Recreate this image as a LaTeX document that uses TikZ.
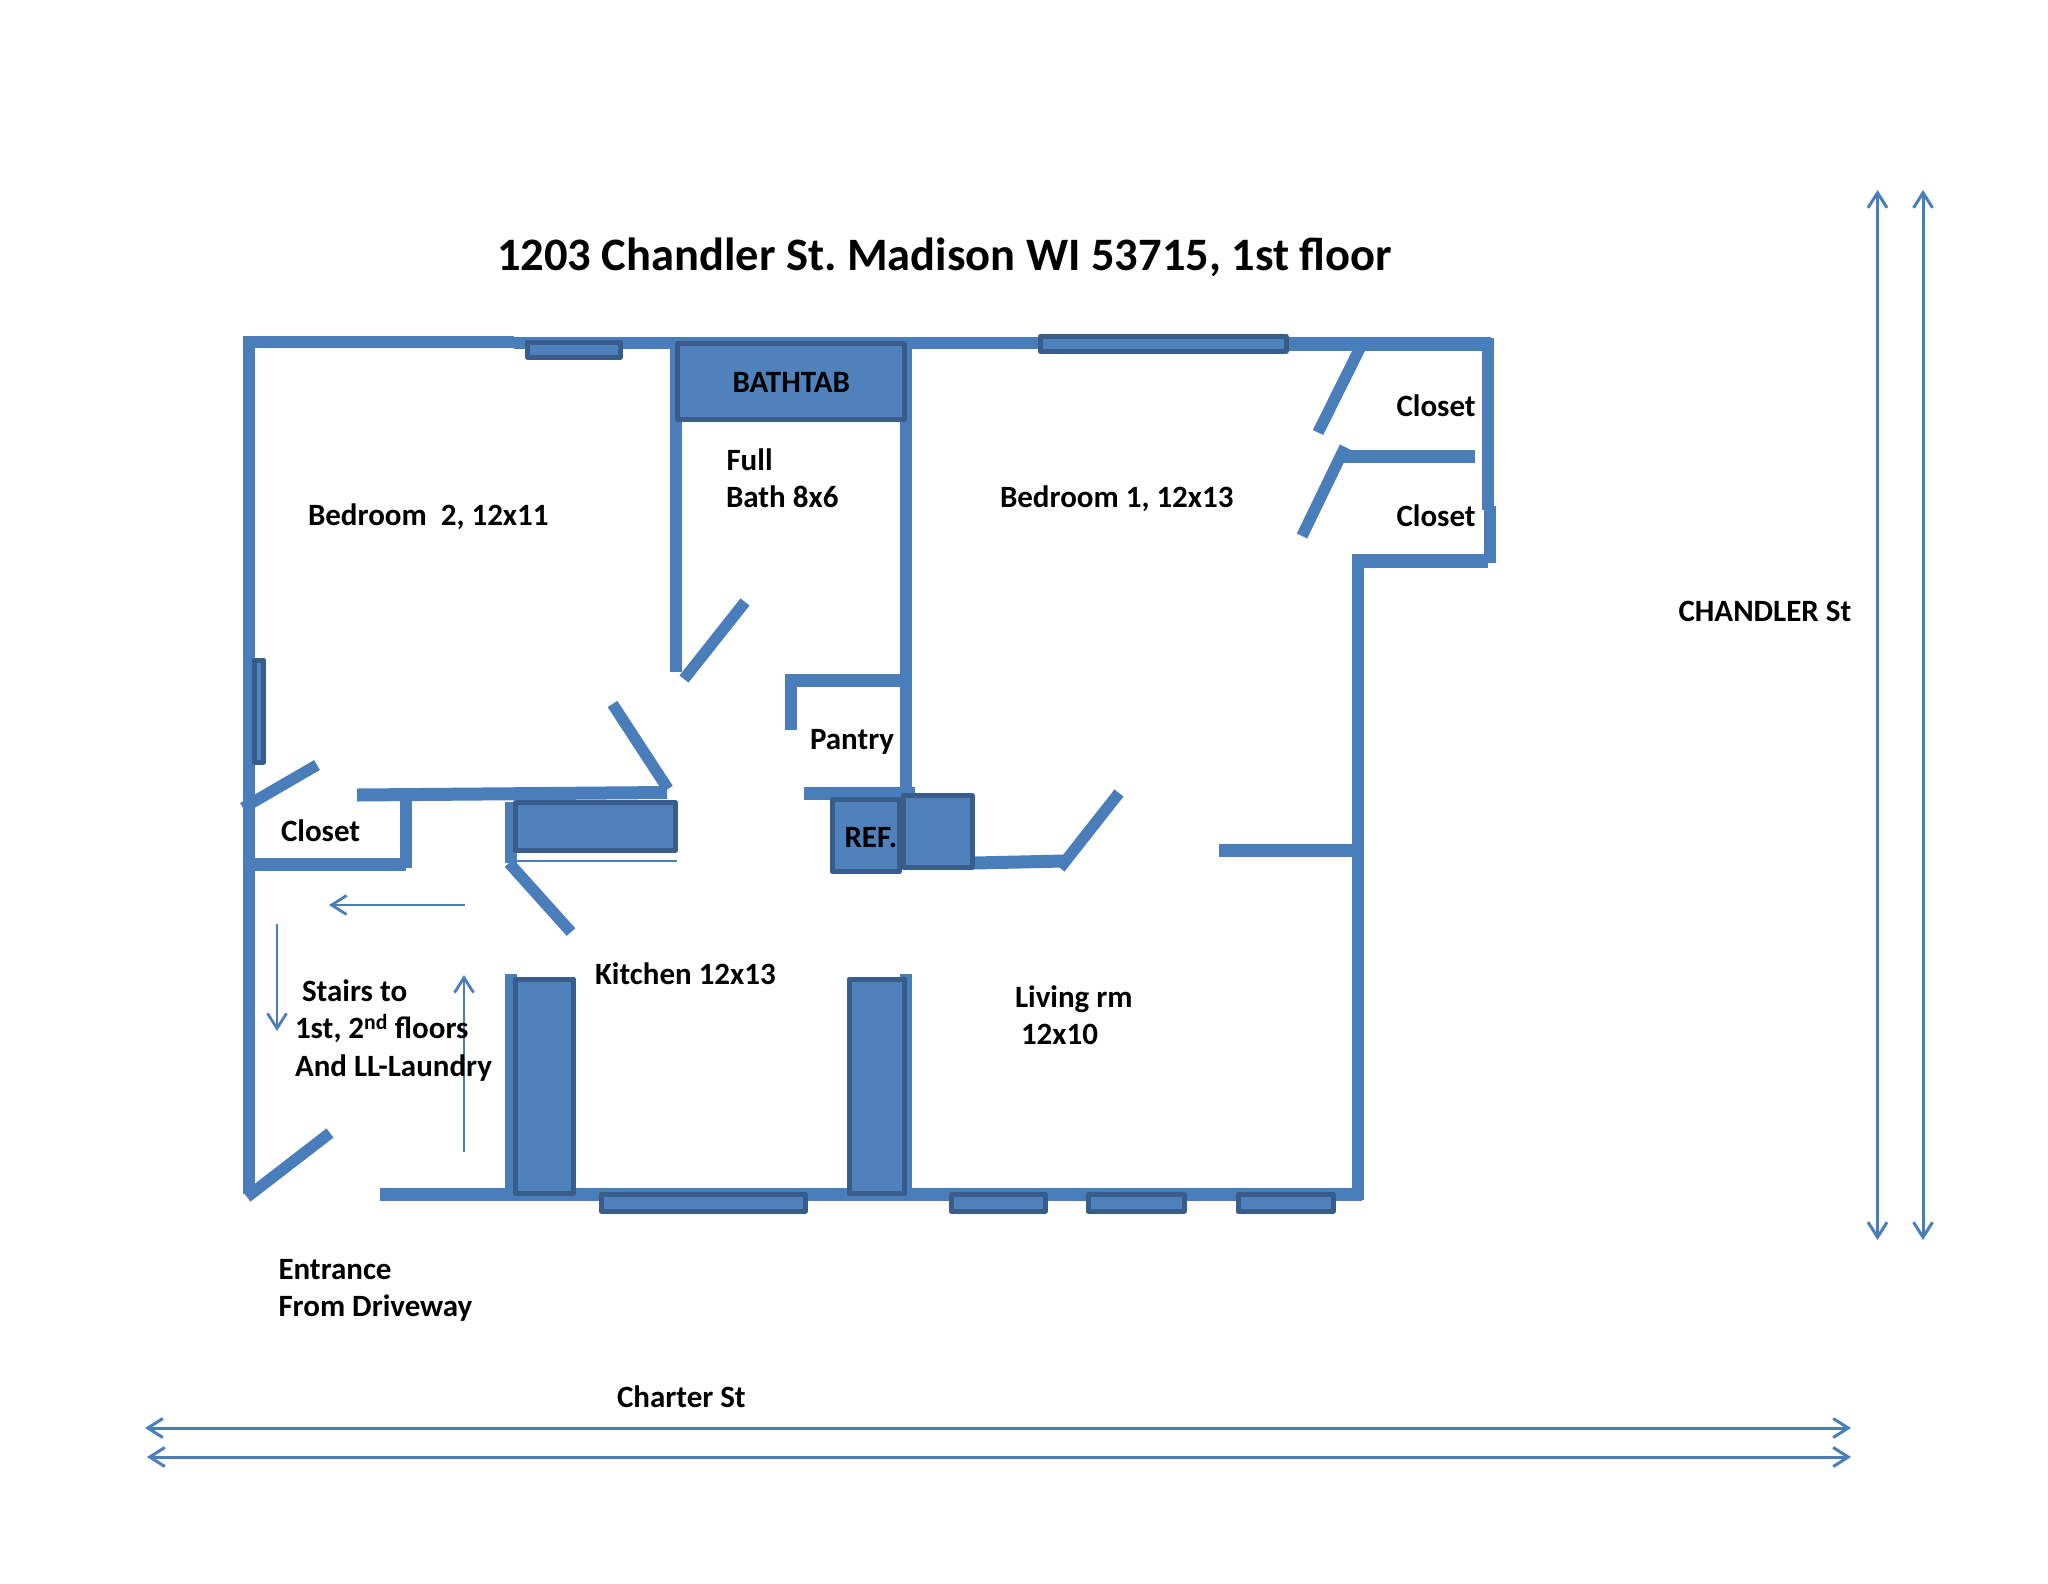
\documentclass[tikz,border=0pt]{standalone}
\usepackage{fontspec}
\setmainfont{Carlito}[BoldFont={Carlito Bold}]
\usetikzlibrary{arrows.meta}
\definecolor{wallc}{HTML}{4A7EBB}
\definecolor{fillc}{HTML}{4F81BD}
\definecolor{edgec}{HTML}{385D8A}
\tikzset{
  wall/.style={draw=wallc,line width=12pt,line cap=butt},
  door/.style={draw=wallc,line width=11.5pt,line cap=butt},
  box/.style={draw=edgec,fill=fillc,line width=5pt,line join=round},
  pointer/.style={draw=wallc,line width=2.8pt,-{Straight Barb[length=15pt,width=19pt,line width=2.8pt]}},
  both/.style={draw=wallc,line width=3pt,{Straight Barb[length=15pt,width=19pt,line width=3pt]}-{Straight Barb[length=15pt,width=19pt,line width=3pt]}},
  lbl/.style={anchor=base west,inner sep=0pt,outer sep=0pt,font=\fontsize{31}{36}\selectfont\bfseries,text=black},
  ttl/.style={anchor=base west,inner sep=0pt,outer sep=0pt,font=\fontsize{46.5}{52}\selectfont\bfseries\frenchspacing,text=black}
}
\begin{document}
\begin{tikzpicture}[x=1pt,y=-1pt]
\useasboundingbox (0,0) rectangle (2048,1583);
% outer walls
\draw[wall] (249,336) -- (249,1194);
\draw[wall] (243,342) -- (514,342);
\draw[wall] (514,343) -- (1040,343);
\draw[wall,line width=14pt] (1288,344) -- (1491,344);
\draw[wall] (1488,338) -- (1488,510);
\draw[wall] (1489.5,506) -- (1489.5,563);
\draw[wall,line width=14pt] (1352,561) -- (1488,561);
\draw[wall] (1358,555) -- (1358,1200);
\draw[wall,line width=13pt] (380,1194) -- (1362,1194);
% inner walls
\draw[wall,line width=13pt] (357,795) -- (667,792.5);
\draw[wall] (405.5,795) -- (405.5,868);
\draw[wall,line width=13pt] (255,864) -- (406,864);
\draw[wall] (676,341) -- (676,672);
\draw[wall] (906,342) -- (906,796);
\draw[wall,line width=13pt] (785,680.5) -- (900,680.5);
\draw[wall] (791,675) -- (791,730);
\draw[wall,line width=13pt] (804,793.5) -- (915,793.5);
\draw[wall] (511,802) -- (511,863);
\draw[wall,line width=2.5pt] (517,861) -- (677,861);
\draw[wall] (511,974) -- (511,1190);
\draw[wall] (906,974) -- (906,1190);
\draw[wall,line width=13pt] (1343,456) -- (1475,456);
\draw[wall,line width=13pt] (974,863) -- (1064,861);
\draw[wall,line width=13pt] (1219,850) -- (1352,850);
% doors
\draw[door] (243,808) -- (317,765);
\draw[door] (612.5,704) -- (668,789);
\draw[door] (684,679) -- (745,602);
\draw[door] (509,863) -- (571,932);
\draw[door] (247,1197) -- (330,1133);
\draw[door] (1360,348) -- (1318,432.5);
\draw[door] (1345,447) -- (1302,536);
\draw[door] (1060,868) -- (1119,793);
% windows and fixtures
\draw[box] (527.5,342) rectangle (620.5,357);
\draw[box] (1040,336.5) rectangle (1286,351);
\draw[box] (254.5,660) rectangle (263.5,762);
\draw[box] (601,1194.5) rectangle (805,1211);
\draw[box] (951,1194.5) rectangle (1045,1211);
\draw[box] (1088,1194.5) rectangle (1184,1211);
\draw[box] (1238,1194.5) rectangle (1333,1211);
\draw[box] (677.5,343.5) rectangle (904.5,419.5);
\draw[box] (515.5,802.5) rectangle (675.5,850.5);
\draw[box] (903.5,795.5) rectangle (972,867);
\draw[box] (832,799.5) rectangle (899.5,871.5);
\draw[box] (515.5,979) rectangle (573.5,1193.5);
\draw[box] (849,979) rectangle (904.5,1193.5);
% stair arrows
\draw[pointer] (465,905) -- (329,905);
\draw[pointer] (277,924) -- (277,1031);
\draw[pointer] (464,1152) -- (464,975);
% street arrows
\draw[both] (1877.5,190) -- (1877.5,1240);
\draw[both] (1923,190) -- (1923,1240);
\draw[both] (145,1428) -- (1851,1428);
\draw[both] (147,1457) -- (1851,1457);
% labels
\node[ttl] (title) at (497,270) {1203 Chandler St. Madison WI 53715, 1st floor};
\node[lbl] (bedtwo) at (308,525.5) {Bedroom\ \ 2, 12x11};
\node[lbl] (bathtab) at (732.5,392) {BATHTAB};
\node[lbl] (full) at (726.5,470) {Full};
\node[lbl] (bathsize) at (726,507.5) {Bath 8x6};
\node[lbl] (bedone) at (1000,507) {Bedroom 1, 12x13};
\node[lbl] (closeta) at (1396.5,416) {Closet};
\node[lbl] (closetb) at (1396.5,526) {Closet};
\node[lbl] (chandler) at (1678.5,621.5) {CHANDLER St};
\node[lbl] (pantry) at (810,749.5) {Pantry};
\node[lbl] (closetc) at (281,841.5) {Closet};
\node[lbl] (ref) at (844.5,847.5) {REF.};
\node[lbl] (kitchen) at (595,984.5) {Kitchen 12x13};
\node[lbl] (stairs) at (302,1001) {Stairs to};
\node[lbl] (floors) at (295,1038.5) {1st, 2\textsuperscript{nd} floors};
\node[lbl] (laundry) at (295,1076.5) {And LL-Laundry};
\node[lbl] (living) at (1015,1007.5) {Living rm};
\node[lbl] (livingsize) at (1021,1044.5) {12x10};
\node[lbl] (entrance) at (278.5,1279) {Entrance};
\node[lbl] (driveway) at (278.5,1316) {From Driveway};
\node[lbl] (charter) at (617,1407.5) {Charter St};
\end{tikzpicture}
\end{document}
